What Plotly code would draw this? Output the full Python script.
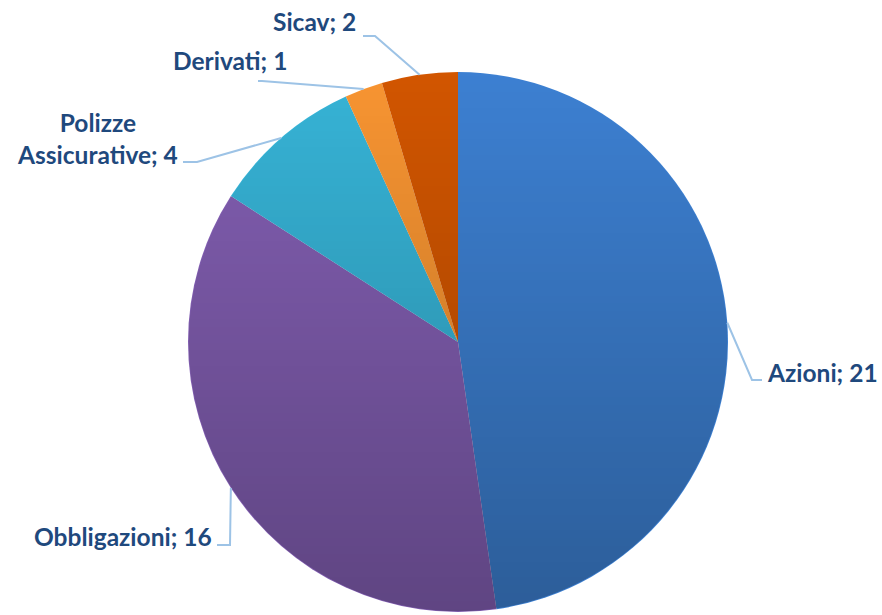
import base64
import struct
import zlib

import numpy as np
import plotly.graph_objects as go

# ---------------- data ----------------
categories = ["Azioni", "Obbligazioni", "Polizze Assicurative", "Derivati", "Sicav"]
values = [21, 16, 4, 1, 2]

# ---------------- style ----------------
colors = ["#3d80d2", "#835fb3", "#37b4d7", "#f89532", "#d25600"]
text_color = "#1f497d"
line_color = "#9dc3e6"
FONT = "Lato"
FONT_SIZE = 24.5

W, H = 882, 615
CX, CY, R = 458, 342, 270  # pie geometry in pixels

# label placement (pixels): anchor x, y, xanchor, elbow, end of leader line
label_layout = {
    "Azioni": dict(x=765, y=372, xanchor="left", elbow=(752, 380), end=(762, 380)),
    "Obbligazioni": dict(x=214, y=536, xanchor="right", elbow=(230, 545), end=(217, 545)),
    "Polizze Assicurative": dict(x=97, y=138, xanchor="center", elbow=(197, 162), end=(183, 162),
                                 text_break=True),
    "Derivati": dict(x=171, y=61, xanchor="left", elbow=(262, 81), end=(258, 81)),
    "Sicav": dict(x=271, y=21, xanchor="left", elbow=(375, 36), end=(363, 36)),
}


def px(x):
    return x / W


def py(y):
    return 1 - y / H


fig = go.Figure(
    go.Pie(
        labels=categories,
        values=values,
        sort=False,
        direction="clockwise",
        rotation=0,
        marker=dict(colors=colors, line=dict(width=0)),
        textinfo="none",
        hoverinfo="label+value",
        domain=dict(x=[px(CX - R), px(CX + R)], y=[py(CY + R), py(CY - R)]),
    )
)

# leader lines and labels computed from the data's angles
total = float(sum(values))
cum = 0.0
shapes = []
annotations = []
for cat, val in zip(categories, values):
    mid = (cum + val / 2.0) / total * 2 * np.pi
    cum += val
    ax = CX + R * np.sin(mid)
    ay = CY - R * np.cos(mid)
    lay = label_layout[cat]
    ex, ey = lay["elbow"]
    fx, fy = lay["end"]
    path = f"M {px(ax)},{py(ay)} L {px(ex)},{py(ey)} L {px(fx)},{py(fy)}"
    shapes.append(dict(type="path", path=path, xref="paper", yref="paper",
                       line=dict(color=line_color, width=2)))
    name = cat.replace(" ", "<br>") if lay.get("text_break") else cat
    annotations.append(dict(
        text=f"<b>{name}; {val}</b>",
        x=px(lay["x"]), y=py(lay["y"]), xref="paper", yref="paper",
        xanchor=lay["xanchor"], yanchor="middle", showarrow=False,
        align="center",
        font=dict(family=FONT, size=FONT_SIZE, color=text_color),
    ))


# vertical shading overlay (light at top, darker at bottom), masked to the pie circle
def make_shade_png(size, amax=0.27):
    yy, xx = np.mgrid[0:size, 0:size].astype(float)
    c = (size - 1) / 2.0
    d = np.sqrt((xx - c) ** 2 + (yy - c) ** 2)
    edge = np.clip(size / 2.0 - 0.3 - d, 0, 1)
    alpha = amax * (yy / (size - 1)) * edge
    arr = np.zeros((size, size, 4), dtype=np.uint8)
    arr[..., 3] = np.round(alpha * 255).astype(np.uint8)
    raw = np.concatenate([np.zeros((size, 1), dtype=np.uint8), arr.reshape(size, size * 4)], axis=1).tobytes()

    def chunk(tag, data):
        return struct.pack(">I", len(data)) + tag + data + struct.pack(">I", zlib.crc32(tag + data) & 0xFFFFFFFF)

    png = b"\x89PNG\r\n\x1a\n"
    png += chunk(b"IHDR", struct.pack(">IIBBBBB", size, size, 8, 6, 0, 0, 0))
    png += chunk(b"IDAT", zlib.compress(raw, 9))
    png += chunk(b"IEND", b"")
    return "data:image/png;base64," + base64.b64encode(png).decode("ascii")


shade = make_shade_png(2 * R)

fig.update_layout(
    width=W, height=H,
    margin=dict(l=0, r=0, t=0, b=0),
    paper_bgcolor="white",
    plot_bgcolor="white",
    showlegend=False,
    shapes=shapes,
    annotations=annotations,
    images=[dict(source=shade, xref="paper", yref="paper",
                 x=px(CX - R), y=py(CY - R), sizex=2 * R / W, sizey=2 * R / H,
                 xanchor="left", yanchor="top", sizing="stretch", layer="above")],
)

fig.write_html(
    "out.html",
    config={"displayModeBar": False},
    post_script="document.body.style.margin='0';document.body.style.overflow='hidden';",
)
